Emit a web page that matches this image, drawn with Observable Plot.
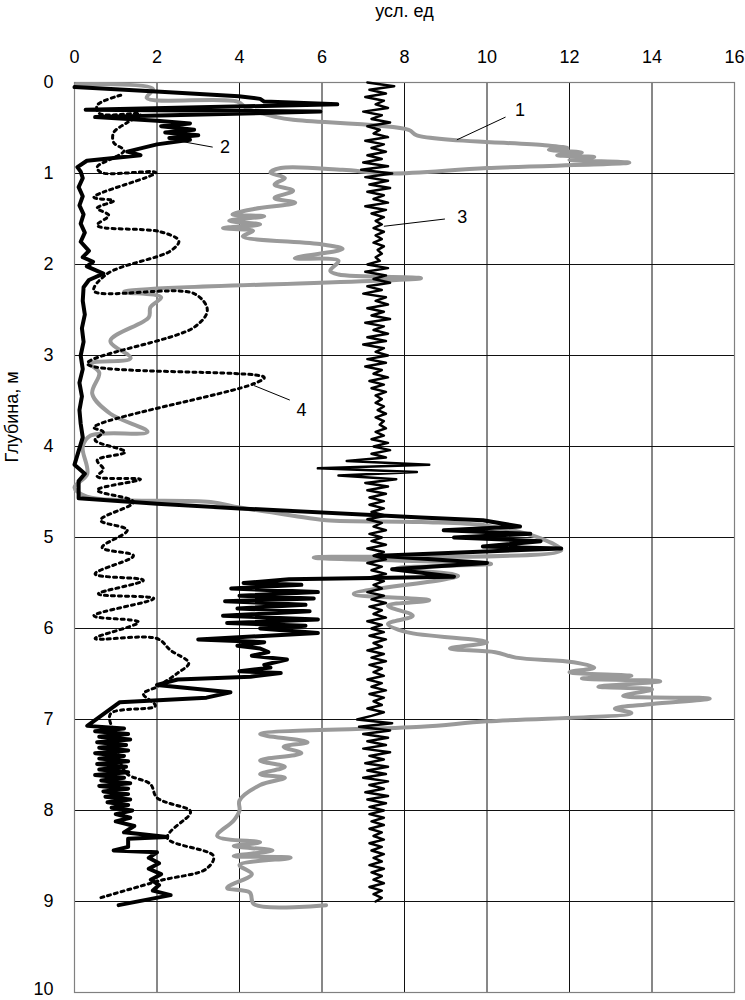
<!DOCTYPE html>
<html>
<head>
<meta charset="utf-8">
<script src="https://cdn.jsdelivr.net/npm/d3@7"></script>
<script src="https://cdn.jsdelivr.net/npm/@observablehq/plot@0.6"></script>
<style>
  html, body { margin: 0; padding: 0; background: #fff; }
  #chart svg { display: block; }
</style>
</head>
<body>
<div id="chart"></div>
<script>
// ---- axis ticks ----
const ticksX = [0, 2, 4, 6, 8, 10, 12, 14, 16];
const ticksY = [0, 1, 2, 3, 4, 5, 6, 7, 8, 9, 10];
const xTitle = "усл. ед";
const yTitle = "Глубина, м";

// ---- curve 1 (gray): [value, depth] ----
const curve1 = [
  [0.05,0.02],[1.9,0.07],[1.75,0.17],[3.95,0.21],[4.2,0.29],[4.9,0.38],[5.3,0.41],[8.1,0.52],[8.3,0.58],
  [11.4,0.69],[11.95,0.72],[11.5,0.74],[12.3,0.77],[11.7,0.8],[12.6,0.82],[12.0,0.85],[13.45,0.88],
  [10.0,0.94],[7.6,1.0],[6.5,0.96],[5.0,0.94],[4.75,0.99],[5.1,1.05],[4.85,1.12],[5.3,1.19],[4.85,1.27],
  [5.35,1.32],[4.35,1.39],[3.83,1.45],[4.6,1.47],[3.75,1.52],[4.5,1.56],[3.6,1.6],[4.33,1.63],[4.08,1.69],
  [6.0,1.78],[6.5,1.83],[5.34,1.93],[6.4,1.96],[6.2,2.07],[6.4,2.11],[8.4,2.15],[1.2,2.3],[2.1,2.36],
  [1.84,2.47],[1.8,2.58],[0.87,2.84],[1.36,3.03],[0.39,3.09],[0.6,3.19],[0.43,3.42],[0.87,3.64],[1.77,3.84],
  [0.39,3.88],[0.2,4.0],[0.31,4.3],[0.0,4.45],[0.3,4.55],[1.28,4.59],[3.3,4.61],[4.0,4.67],[5.3,4.76],
  [6.1,4.81],[8.4,4.83],[10.0,4.87],[11.3,5.01],[11.8,5.14],[5.8,5.22],[10.1,5.29],[7.8,5.34],[9.3,5.42],
  [6.77,5.62],[8.6,5.69],[7.6,5.75],[8.2,5.86],[7.6,5.95],[8.05,6.04],[10.0,6.15],[9.1,6.22],[10.2,6.26],
  [10.7,6.32],[12.1,6.37],[12.6,6.43],[12.0,6.48],[13.5,6.52],[12.3,6.55],[14.2,6.58],[12.7,6.64],[14.0,6.67],
  [13.3,6.74],[15.4,6.77],[14.0,6.83],[13.1,6.88],[13.5,6.93],[10.0,7.02],[8.4,7.08],[4.5,7.16],[5.65,7.25],
  [5.07,7.3],[5.5,7.37],[4.5,7.45],[5.1,7.52],[4.5,7.6],[5.1,7.64],[4.5,7.72],[4.0,7.89],[4.0,8.0],
  [3.86,8.11],[3.46,8.28],[4.5,8.35],[3.86,8.39],[4.8,8.44],[3.86,8.5],[5.24,8.52],[4.0,8.6],[4.3,8.7],
  [3.7,8.85],[4.25,8.9],[4.35,9.03],[6.1,9.04]
];

// ---- curve 2 (black thick): [value, depth] ----
const curve2 = [
  [0.0,0.05],[1.98,0.1],[3.98,0.15],[4.5,0.18],[4.6,0.21],[6.37,0.24],[0.27,0.3],[5.96,0.32],[0.5,0.38],
  [2.0,0.42],[2.8,0.45],[2.1,0.48],[2.9,0.52],[2.2,0.55],[3.0,0.58],[2.3,0.61],[2.8,0.63],[2.0,0.68],
  [1.28,0.76],[1.6,0.8],[0.3,0.86],[0.07,0.93],[0.15,0.98],[0.2,1.05],[0.1,1.15],[0.2,1.25],[0.12,1.35],
  [0.22,1.45],[0.15,1.55],[0.25,1.65],[0.15,1.75],[0.35,1.85],[0.2,1.92],[0.45,1.97],[0.3,2.02],[0.7,2.1],
  [0.35,2.17],[0.22,2.25],[0.2,2.4],[0.25,2.55],[0.18,2.7],[0.22,2.85],[0.15,3.0],[0.2,3.15],[0.12,3.3],
  [0.18,3.45],[0.12,3.6],[0.15,3.75],[0.2,3.9],[0.0,4.2],[0.25,4.3],[0.1,4.38],[0.1,4.57],
  [2.0,4.63],[4.0,4.68],[8.4,4.78],[9.9,4.81],[10.8,4.88],[8.95,4.92],[11.05,4.96],[9.2,5.0],[11.3,5.04],
  [9.9,5.1],[11.8,5.12],[7.4,5.2],[10.0,5.28],[7.7,5.35],[9.2,5.43],[5.2,5.46],[4.1,5.5],[5.5,5.52],
  [3.8,5.56],[5.9,5.6],[4.0,5.64],[5.8,5.67],[3.65,5.7],[5.6,5.74],[3.95,5.78],[5.7,5.81],[3.6,5.86],
  [5.9,5.9],[3.7,5.94],[5.6,5.97],[4.5,6.0],[5.9,6.05],[3.0,6.12],[4.6,6.15],[3.95,6.19],[4.5,6.22],
  [4.7,6.26],[4.3,6.3],[5.15,6.34],[4.6,6.4],[4.75,6.43],[4.0,6.47],[5.0,6.49],[4.27,6.53],[2.5,6.56],
  [2.0,6.62],[3.78,6.7],[3.2,6.76],[1.1,6.81],[0.7,6.94],[0.31,7.07],
  [1.2,7.1],[0.5,7.13],[1.3,7.16],[0.6,7.19],[1.35,7.22],[0.55,7.25],[1.25,7.28],[0.6,7.31],[1.3,7.34],
  [0.5,7.37],[1.2,7.4],[0.6,7.43],[1.3,7.46],[0.55,7.49],[1.25,7.52],[0.6,7.55],[1.3,7.58],[0.5,7.61],
  [1.2,7.64],[0.65,7.67],[1.35,7.7],[0.6,7.73],[1.3,7.76],[0.7,7.79],[1.3,7.82],[0.75,7.85],[1.35,7.88],
  [0.8,7.91],[1.3,7.94],[0.9,7.97],[1.4,8.0],[1.0,8.04],[1.35,8.08],[1.0,8.12],[1.45,8.17],[1.2,8.24],
  [2.25,8.29],[1.3,8.31],[1.3,8.4],[0.95,8.44],[2.0,8.46],[1.8,8.52],[2.05,8.58],[1.8,8.64],[2.1,8.7],
  [1.85,8.76],[2.05,8.82],[1.9,8.88],[2.33,8.93],[1.07,9.04]
];

// ---- curve 3 (thin noisy black), sampled evenly from depth 0 to 9.0 ----
const curve3End = 9.0;
const curve3 = [
  7.1,7.75,7.15,7.55,7.05,7.5,7.3,7.6,7.0,7.45,7.2,7.65,7.1,7.4,7.25,7.6,7.05,7.5,7.2,7.55,7.1,7.45,7.0,7.6,6.95,7.7,
  7.05,7.6,7.15,7.65,7.1,7.5,7.25,7.6,7.05,7.55,7.2,7.5,7.3,
  7.45,7.25,7.5,7.3,7.45,7.25,7.5,7.35,7.45,7.3,7.4,
  7.1,7.6,7.05,7.55,7.25,7.65,7.1,7.45,7.0,7.55,7.3,7.6,7.1,7.5,7.2,7.65,7.05,7.5,7.25,7.6,7.1,7.55,7.0,7.5,7.3,7.6,7.1,7.55,7.05,7.45,7.25,7.6,7.15,7.5,7.2,7.55,7.3,7.45,
  7.3,7.5,7.35,7.55,7.3,7.5,7.4,7.55,7.3,7.5,
  7.2,7.6,7.25,7.65,7.2,7.55,
  6.6,8.6,5.9,8.3,6.4,7.8,
  7.05,7.6,7.1,7.55,7.15,7.5,
  7.15,7.5,7.2,7.55,7.1,7.45,7.25,7.55,7.15,7.45,7.2,7.55,7.1,7.5,7.25,7.55,7.1,7.45,7.2,7.55,
  7.15,7.5,7.25,7.45,7.1,7.5,7.2,7.55,7.15,7.45,7.25,7.55,7.1,7.45,7.2,7.5,7.15,7.55,7.25,7.45,
  7.1,7.5,7.2,7.55,7.15,7.45,7.25,7.5,7.1,7.45,7.2,7.55,7.15,7.5,7.25,7.45,7.1,7.5,7.2,
  6.85,7.7,6.9,7.65,
  7.0,7.6,7.1,7.55,7.0,7.65,7.15,7.5,7.05,7.6,7.1,7.55,7.0,7.6,7.15,7.5,7.05,7.6,7.1,7.55,7.15,7.5,
  7.15,7.5,7.2,7.5,7.15,7.45,7.25,7.5,7.15,7.45,7.2,7.5,7.25,7.45,7.15,7.5,7.2,7.45,7.25,7.5,7.15,7.45,7.25,7.45,7.3
];

// ---- curve 4 (dotted): [value, depth] ----
const curve4 = [
  [1.12,0.14],[0.55,0.25],[0.6,0.34],[1.6,0.35],[1.28,0.44],[0.95,0.55],[0.95,0.66],[1.2,0.75],[0.55,0.93],
  [0.65,0.99],[1.97,0.99],[0.47,1.26],[0.95,1.3],[0.55,1.38],[0.83,1.46],[0.55,1.57],[2.08,1.64],[2.53,1.74],
  [2.33,1.85],[0.8,2.1],[0.47,2.29],[2.9,2.32],[3.22,2.5],[2.9,2.69],[0.31,3.09],[4.6,3.24],[4.35,3.31],
  [0.47,3.79],[0.7,3.84],[0.5,3.93],[1.23,4.06],[0.55,4.15],[0.7,4.25],[0.55,4.33],[1.6,4.36],[0.55,4.48],
  [1.43,4.61],[0.63,4.81],[1.28,4.92],[0.67,5.11],[1.43,5.2],[0.5,5.4],[1.67,5.47],[0.58,5.62],[1.92,5.67],
  [0.47,5.86],[1.55,5.93],[0.5,6.11],[2.0,6.11],[2.33,6.24],[2.77,6.38],[2.5,6.49],[2.0,6.64],[1.67,6.72],
  [1.96,6.85],[0.87,6.94],[1.0,7.2],[1.1,7.45],[1.28,7.6],[1.84,7.71],[2.0,7.86],[2.8,8.0],[2.8,8.04],
  [2.25,8.3],[3.37,8.5],[3.2,8.64],[2.08,8.77],[0.55,8.97]
];

// ---- curve labels with leader lines: [label, textValue, textDepth, fromValue, fromDepth, toValue, toDepth] ----
const labels = [
  ["1", 10.8, 0.3, 9.27, 0.63, 10.45, 0.38],
  ["2", 3.65, 0.71, 2.5, 0.64, 3.35, 0.71],
  ["3", 9.4, 1.48, 7.5, 1.58, 8.98, 1.5],
  ["4", 5.5, 3.6, 4.35, 3.33, 5.22, 3.49]
];

const c1 = curve1.map(([v, d]) => ({v, d}));
const c2 = curve2.map(([v, d]) => ({v, d}));
const c3 = curve3.map((v, i) => ({v, d: i * curve3End / (curve3.length - 1)}));
const c4 = curve4.map(([v, d]) => ({v, d}));
const lab = labels.map(([t, x, y, x1, y1, x2, y2]) => ({t, x, y, x1, y1, x2, y2}));

const chart = Plot.plot({
  width: 745,
  height: 1000,
  marginLeft: 74,
  marginRight: 11,
  marginTop: 82,
  marginBottom: 8,
  style: {fontFamily: "'Liberation Sans', Arial, sans-serif", fontSize: "18px", background: "#fff", color: "#000"},
  x: {domain: [0, 16]},
  y: {domain: [0, 10], reverse: true},
  marks: [
    Plot.gridX(ticksX, {stroke: "#111", strokeOpacity: 1, strokeWidth: 1}),
    Plot.gridY(ticksY, {stroke: "#111", strokeOpacity: 1, strokeWidth: 1}),
    Plot.frame({stroke: "#808080", strokeWidth: 1.2}),
    Plot.axisX(ticksX, {anchor: "top", tickSize: 0, tickPadding: 20, label: null, fontSize: 18, tickFormat: "d"}),
    Plot.axisY(ticksY.slice(0, -1), {anchor: "left", tickSize: 0, tickPadding: 21, label: null, fontSize: 18, tickFormat: "d"}),
    Plot.axisY(ticksY.slice(-1), {anchor: "left", tickSize: 0, tickPadding: 21, label: null, fontSize: 18, tickFormat: "d", dy: -3}),
    Plot.text([xTitle], {frameAnchor: "top", lineAnchor: "middle", dy: -71, fontSize: 18}),
    Plot.text([yTitle], {frameAnchor: "left", dx: -62, dy: -75, rotate: -90, fontSize: 18}),
    Plot.line(c1, {x: "v", y: "d", stroke: "#9a9a9a", strokeWidth: 4, curve: "catmull-rom"}),
    Plot.line(c4, {x: "v", y: "d", stroke: "#000", strokeWidth: 3, strokeDasharray: "3,4", curve: "catmull-rom"}),
    Plot.line(c2, {x: "v", y: "d", stroke: "#000", strokeWidth: 4, strokeLinejoin: "round"}),
    Plot.line(c3, {x: "v", y: "d", stroke: "#000", strokeWidth: 2.5}),
    Plot.link(lab, {x1: "x1", y1: "y1", x2: "x2", y2: "y2", stroke: "#000", strokeWidth: 1}),
    Plot.text(lab, {x: "x", y: "y", text: "t", fontSize: 18})
  ]
});
document.getElementById("chart").appendChild(chart);
</script>
</body>
</html>
